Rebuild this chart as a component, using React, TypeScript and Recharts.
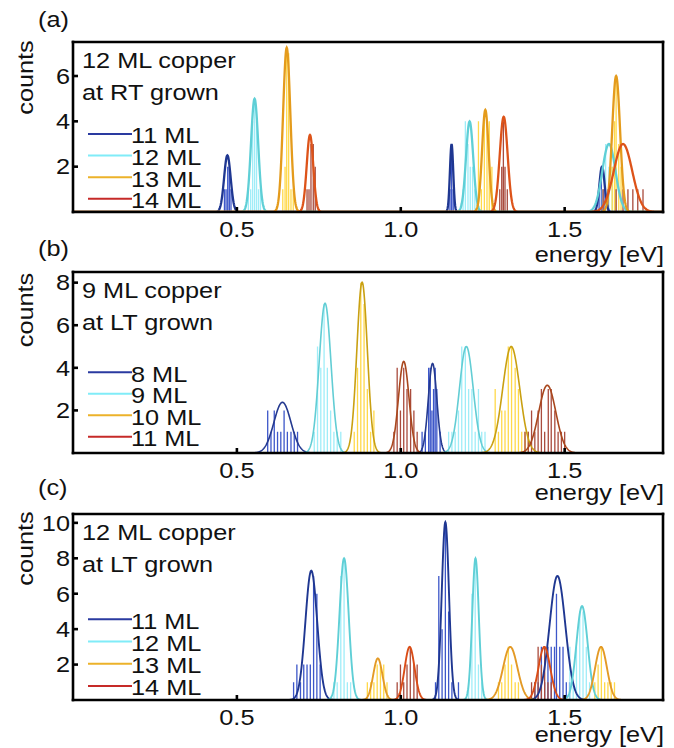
import React from 'react';
import { LineChart, Line, XAxis, YAxis } from 'recharts';

const FONT = '"Liberation Sans", Arial, Helvetica, sans-serif';
const FS = 22;
const SX = 1.15;

// ---------- shared axis data ----------
const energyTicks = [0.5, 1.0, 1.5];
const energyMin = 0;
const energyMax = 1.8;

// ---------- panel (a): 12 ML copper at RT grown ----------
const aNames = ['11 ML', '12 ML', '13 ML', '14 ML'];
const aYTicks = [2, 4, 6];
const aYMax = 7.5;
// Gaussian fits: centre [eV], height [counts], width sigma [eV]
const aCenters = [[0.471, 1.155, 1.614], [0.554, 1.21, 1.635], [0.652, 1.258, 1.657], [0.723, 1.314, 1.678]];
const aHeights = [[2.5, 3.0, 2.0], [5.0, 4.0, 3.0], [7.25, 4.5, 6.0], [3.4, 4.2, 3.0]];
const aSigmas = [[0.01, 0.005, 0.008], [0.011, 0.011, 0.02], [0.011, 0.01, 0.012], [0.01, 0.012, 0.028]];
// histogram bars: [energy, counts]
const aBars11 = [[0.462, 1], [0.467, 1], [0.472, 2], [0.477, 2], [0.482, 1], [1.15, 1], [1.155, 3], [1.16, 1], [1.605, 1], [1.612, 2], [1.62, 1]];
const aBars12 = [[0.535, 1], [0.542, 1], [0.548, 4], [0.554, 5], [0.56, 4], [0.566, 1], [0.572, 1], [1.19, 1], [1.197, 4], [1.205, 3], [1.212, 2], [1.219, 2], [1.226, 1], [1.615, 1], [1.625, 3], [1.635, 2], [1.645, 2], [1.655, 1]];
const aBars13 = [[0.64, 1], [0.647, 2], [0.652, 7], [0.658, 7], [0.665, 1], [0.672, 1], [1.237, 4], [1.246, 1], [1.255, 4], [1.263, 4], [1.27, 4], [1.278, 2], [1.645, 2], [1.652, 4], [1.657, 6], [1.665, 3], [1.672, 2]];
const aBars14 = [[0.714, 1], [0.72, 1], [0.726, 3], [0.733, 3], [0.739, 2], [1.302, 1], [1.308, 2], [1.313, 4], [1.318, 2], [1.325, 1], [1.617, 1], [1.632, 1], [1.657, 1], [1.678, 1], [1.693, 1], [1.708, 1], [1.723, 1], [1.739, 1]];

// ---------- panel (b): 9 ML copper at LT grown ----------
const bNames = ['8 ML', '9 ML', '10 ML', '11 ML'];
const bYTicks = [2, 4, 6, 8];
const bYMax = 8.5;
const bCenters = [[0.639, 1.097], [0.769, 1.2], [0.882, 1.337], [1.009, 1.447]];
const bHeights = [[2.38, 4.2], [7.03, 5.0], [8.02, 5.0], [4.3, 3.18]];
const bSigmas = [[0.026, 0.013], [0.018, 0.021], [0.016, 0.026], [0.016, 0.026]];
const bBars8 = [[0.594, 2], [0.604, 1], [0.614, 2], [0.624, 1], [0.634, 1], [0.644, 2], [0.654, 1], [0.665, 1], [0.675, 1], [0.685, 1], [1.065, 1], [1.075, 1], [1.085, 4], [1.09, 4], [1.095, 2], [1.1, 3], [1.105, 4], [1.11, 3], [1.12, 1]];
const bBars9 = [[0.736, 1], [0.746, 5], [0.756, 4], [0.766, 7], [0.776, 4], [0.786, 2], [0.796, 1], [0.806, 1], [0.817, 1], [1.146, 1], [1.156, 1], [1.166, 1], [1.176, 2], [1.186, 5], [1.197, 5], [1.207, 3], [1.217, 3], [1.227, 1], [1.237, 3], [1.247, 1], [1.257, 1]];
const bBars10 = [[0.858, 1], [0.868, 4], [0.878, 8], [0.888, 7], [0.898, 3], [0.908, 1], [0.918, 2], [1.288, 3], [1.298, 1], [1.308, 2], [1.318, 2], [1.328, 5], [1.338, 5], [1.349, 4], [1.359, 3], [1.369, 1], [1.379, 1], [1.389, 1]];
const bBars11 = [[0.979, 1], [0.989, 4], [0.999, 2], [1.009, 4], [1.019, 3], [1.03, 3], [1.04, 2], [1.05, 1], [1.379, 1], [1.389, 1], [1.399, 2], [1.409, 1], [1.419, 2], [1.429, 3], [1.439, 1], [1.45, 3], [1.459, 3], [1.47, 2], [1.48, 1], [1.49, 1], [1.5, 1]];

// ---------- panel (c): 12 ML copper at LT grown ----------
const cNames = ['11 ML', '12 ML', '13 ML', '14 ML'];
const cYTicks = [2, 4, 6, 8, 10];
const cYMax = 10.5;
const cCenters = [[0.727, 1.136, 1.478], [0.827, 1.228, 1.553], [0.93, 1.334, 1.611], [1.027, 1.438]];
const cHeights = [[7.3, 10.05, 7.0], [8.0, 8.0, 5.3], [2.35, 3.0, 3.0], [3.0, 3.0]];
const cSigmas = [[0.018, 0.011, 0.024], [0.014, 0.01, 0.017], [0.014, 0.022, 0.018], [0.015, 0.018]];
const cBars11 = [[0.673, 1], [0.683, 2], [0.694, 1], [0.704, 2], [0.714, 2], [0.724, 2], [0.734, 7], [0.744, 6], [0.754, 2], [1.106, 1], [1.116, 7], [1.126, 4], [1.136, 10], [1.146, 5], [1.156, 1], [1.176, 1], [1.409, 1], [1.419, 1], [1.429, 3], [1.439, 1], [1.449, 3], [1.459, 3], [1.469, 3], [1.475, 6], [1.485, 3], [1.495, 3], [1.505, 1], [1.515, 1]];
const cBars12 = [[0.796, 1], [0.806, 1], [0.817, 7], [0.827, 8], [0.837, 1], [0.847, 1], [1.207, 1], [1.217, 6], [1.227, 8], [1.237, 2], [1.247, 1], [1.516, 3], [1.526, 1], [1.536, 3], [1.546, 5], [1.556, 5], [1.566, 3], [1.576, 1]];
const cBars13 = [[0.898, 1], [0.908, 1], [0.918, 1], [0.928, 2], [0.938, 2], [0.948, 2], [0.958, 1], [1.298, 1], [1.308, 1], [1.318, 2], [1.328, 3], [1.338, 2], [1.349, 1], [1.359, 1], [1.592, 1], [1.602, 2], [1.612, 3], [1.622, 1], [1.632, 1], [1.642, 1], [1.652, 1]];
const cBars14 = [[0.989, 1], [0.999, 2], [1.009, 1], [1.019, 2], [1.029, 3], [1.04, 2], [1.05, 2], [1.399, 1], [1.409, 1], [1.419, 3], [1.429, 2], [1.439, 3], [1.449, 1], [1.459, 1]];

// ---------- colours ----------
const legendColors = ['#2a3aa0', '#80ecf8', '#ecb22a', '#c62a28'];
const barColors = ['#3d57c9', '#9fedf8', '#ffd94a', '#a94b3d'];
const aCurveColors = ['#1f3791', '#5fcfd6', '#e49b1c', '#dd5319'];
const bCurveColors = ['#253a90', '#62cdd4', '#c9a012', '#a9471d'];
const cCurveColors = ['#1f3791', '#5fcfd6', '#e39a26', '#da4c16'];

// ---------- builders ----------
const STEP = 0.001;
function fitCurve(centers: number[], heights: number[], sigmas: number[]) {
  const pts: { e: number; c: number }[] = [];
  const n = Math.round((energyMax - energyMin) / STEP);
  for (let i = 0; i <= n; i++) {
    const e = energyMin + i * STEP;
    let c = 0;
    for (let k = 0; k < centers.length; k++) {
      const d = (e - centers[k]) / sigmas[k];
      c += heights[k] * Math.exp(-0.5 * d * d);
    }
    pts.push({ e, c });
  }
  return pts;
}
function histogram(bars: number[][]) {
  const sorted = [...bars].sort((p, q) => p[0] - q[0]);
  const pts: { e: number; c: number }[] = [];
  sorted.forEach(([e, c]) => {
    pts.push({ e, c: 0 });
    pts.push({ e, c });
    pts.push({ e, c: 0 });
  });
  return pts;
}

const XTick = (props: any) => {
  const { x, y, payload } = props;
  return (
    <text transform={`translate(${x},${y}) scale(${SX},1)`} textAnchor="middle" dy={14.2}
      fontFamily={FONT} fontSize={FS} fill="#111">
      {Number(payload.value).toFixed(1)}
    </text>
  );
};
const YTick = (props: any) => {
  const { x, y, payload } = props;
  return (
    <text transform={`translate(${x},${y}) scale(${SX},1)`} textAnchor="end" dy={7.8}
      fontFamily={FONT} fontSize={FS} fill="#111">
      {payload.value}
    </text>
  );
};

const MT = 9;
const MB = 5;
const XH = 30;
const FRAME = { stroke: '#000', strokeWidth: 2.6, strokeLinecap: 'square' as const };
const TICKLINE = { stroke: '#000', strokeWidth: 2.6 };

type PanelProps = {
  plotTop: number;
  plotH: number;
  yMax: number;
  yTicks: number[];
  curves: { data: any[]; color: string }[];
  bars: { data: any[]; color: string }[];
  curveWidth: number;
};

function Panel({ plotTop, plotH, yMax, yTicks, curves, bars, curveWidth }: PanelProps) {
  const h = MT + 1 + plotH + XH + MB;
  return (
    <div style={{ position: 'absolute', left: 0, top: plotTop - MT - 1 }}>
      <LineChart width={674} height={h} margin={{ top: MT, right: 10, bottom: MB, left: 0 }}>
        <XAxis xAxisId="bottom" dataKey="e" type="number" domain={[energyMin, energyMax]} ticks={energyTicks}
          orientation="bottom" height={XH} axisLine={FRAME} tickLine={TICKLINE} tickSize={-5} tickMargin={16}
          tick={<XTick />} interval={0} allowDataOverflow />
        <XAxis xAxisId="top" dataKey="e" type="number" domain={[energyMin, energyMax]} ticks={energyTicks}
          orientation="top" height={1} axisLine={FRAME} tickLine={TICKLINE} tickSize={-5} tick={false}
          interval={0} allowDataOverflow />
        <YAxis yAxisId="left" type="number" domain={[0, yMax]} ticks={yTicks} orientation="left" width={73}
          axisLine={FRAME} tickLine={TICKLINE} tickSize={-5} tickMargin={8} tick={<YTick />} interval={0}
          allowDataOverflow />
        <YAxis yAxisId="right" type="number" domain={[0, yMax]} ticks={yTicks} orientation="right" width={1}
          axisLine={FRAME} tickLine={TICKLINE} tickSize={-5} tick={false} interval={0} allowDataOverflow />
        {bars.map((b, i) => (
          <Line key={'b' + i} xAxisId="bottom" yAxisId="left" data={b.data} dataKey="c" type="linear"
            stroke={b.color} strokeWidth={1.3} dot={false} activeDot={false} isAnimationActive={false} />
        ))}
        {curves.map((c, i) => (
          <Line key={'c' + i} xAxisId="bottom" yAxisId="left" data={c.data} dataKey="c" type="linear"
            stroke={c.color} strokeWidth={curveWidth} dot={false} activeDot={false} isAnimationActive={false} />
        ))}
      </LineChart>
    </div>
  );
}

const Txt = ({ x, y, children, anchor = 'start', rot = false }: any) => (
  <text transform={`translate(${x},${y})${rot ? ' rotate(-90)' : ''} scale(${SX},1)`} textAnchor={anchor}
    fontFamily={FONT} fontSize={FS} fill="#111">
    {children}
  </text>
);

function Legend({ names, y0, dy }: { names: string[]; y0: number; dy: number }) {
  return (
    <g>
      {names.map((n, i) => (
        <g key={n}>
          <line x1={88} x2={132} y1={y0 + i * dy} y2={y0 + i * dy} stroke={legendColors[i]} strokeWidth={2} />
          <Txt x={131} y={y0 + i * dy + 9.3}>{n}</Txt>
        </g>
      ))}
    </g>
  );
}

export default function App() {
  const aBarsAll = [aBars11, aBars12, aBars13, aBars14];
  const bBarsAll = [bBars8, bBars9, bBars10, bBars11];
  const cBarsAll = [cBars11, cBars12, cBars13, cBars14];

  const aCurves = aCenters.map((c, i) => ({ data: fitCurve(c, aHeights[i], aSigmas[i]), color: aCurveColors[i] }));
  const bCurves = bCenters.map((c, i) => ({ data: fitCurve(c, bHeights[i], bSigmas[i]), color: bCurveColors[i] }));
  const cCurves = cCenters.map((c, i) => ({ data: fitCurve(c, cHeights[i], cSigmas[i]), color: cCurveColors[i] }));
  const aBarSeries = aBarsAll.map((b, i) => ({ data: histogram(b), color: barColors[i] }));
  const bBarSeries = bBarsAll.map((b, i) => ({ data: histogram(b), color: barColors[i] }));
  const cBarSeries = cBarsAll.map((b, i) => ({ data: histogram(b), color: barColors[i] }));

  return (
    <div style={{ position: 'absolute', left: 0, top: 0, width: 674, height: 748, background: '#fff', overflow: 'hidden' }}>
      <Panel plotTop={42} plotH={170} yMax={aYMax} yTicks={aYTicks} curves={aCurves} bars={aBarSeries} curveWidth={2.3} />
      <Panel plotTop={272} plotH={181} yMax={bYMax} yTicks={bYTicks} curves={bCurves} bars={bBarSeries} curveWidth={1.6} />
      <Panel plotTop={514} plotH={186} yMax={cYMax} yTicks={cYTicks} curves={cCurves} bars={cBarSeries} curveWidth={1.9} />
      <svg width={674} height={748} style={{ position: 'absolute', left: 0, top: 0, pointerEvents: 'none' }}>
        {/* panel (a) */}
        <Txt x={38} y={27}>(a)</Txt>
        <Txt x={33} y={77.5} anchor="middle" rot>counts</Txt>
        <Txt x={82} y={67.5}>12 ML copper</Txt>
        <Txt x={82} y={100}>at RT grown</Txt>
        <Legend names={aNames} y0={134} dy={21.6} />
        <Txt x={664} y={262} anchor="end">energy [eV]</Txt>
        {/* panel (b) */}
        <Txt x={38} y={255.5}>(b)</Txt>
        <Txt x={33} y={310} anchor="middle" rot>counts</Txt>
        <Txt x={82} y={298}>9 ML copper</Txt>
        <Txt x={82} y={330}>at LT grown</Txt>
        <Legend names={bNames} y0={372.3} dy={21.5} />
        <Txt x={664} y={500} anchor="end">energy [eV]</Txt>
        {/* panel (c) */}
        <Txt x={38} y={495}>(c)</Txt>
        <Txt x={33} y={548.5} anchor="middle" rot>counts</Txt>
        <Txt x={82} y={540}>12 ML copper</Txt>
        <Txt x={82} y={572}>at LT grown</Txt>
        <Legend names={cNames} y0={619.3} dy={22.2} />
        <Txt x={664} y={742} anchor="end">energy [eV]</Txt>
      </svg>
    </div>
  );
}
